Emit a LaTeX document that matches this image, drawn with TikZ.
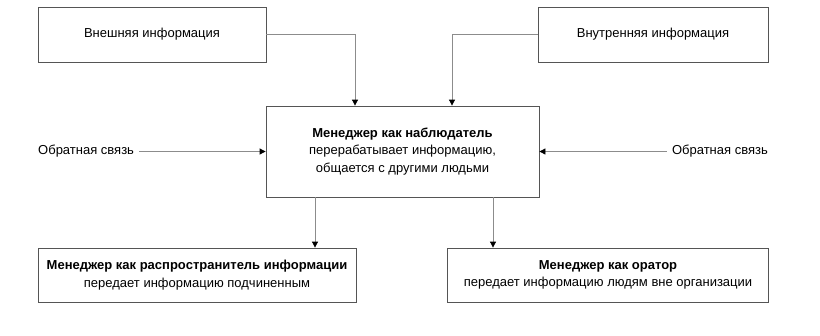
\documentclass[tikz,border=0pt]{standalone}
\usepackage{fontspec}
\setmainfont{Liberation Sans}
\usetikzlibrary{positioning,arrows.meta}
\definecolor{LineGray}{HTML}{8C8C8C}
\definecolor{FrameGray}{HTML}{555555}

\begin{document}
\begin{tikzpicture}[
  x=1pt, y=-1pt,
  font=\fontsize{13}{17.5}\selectfont,
  box/.style={draw=FrameGray, line width=0.8pt, align=center, inner sep=0pt},
  arr/.style={-{Triangle[length=6pt,width=6pt,color=black]}, draw=LineGray, line width=0.8pt}
]
\useasboundingbox (0,0) rectangle (820,335);
\node[box, minimum width=228pt, minimum height=55pt] (ext) at (152,34.5) {Внешняя информация};
\node[box, minimum width=230pt, minimum height=55pt] (int) at (653,34.5) {Внутренняя информация};
\node[box, minimum width=273pt, minimum height=91pt] (obs) at (402.5,151.5) {\textbf{Менеджер как наблюдатель}\\перерабатывает информацию,\\общается с другими людьми};
\node[box, minimum width=318pt, minimum height=54pt] (dist) at (197,275) {\textbf{Менеджер как распространитель информации}\\передает информацию подчиненным};
\node[box, minimum width=321pt, minimum height=54pt] (orat) at (608,275) {\textbf{Менеджер как оратор}\\передает информацию людям вне организации};
\node[anchor=west, inner sep=0pt] (fbl) at (38,151.5) {Обратная связь};
\node[anchor=east, inner sep=0pt] (fbr) at (768,151.5) {Обратная связь};

\coordinate (in1) at ([xshift=-47.5pt]obs.north);
\coordinate (in2) at ([xshift=49.5pt]obs.north);
\coordinate (out1) at ([xshift=-87.5pt]obs.south);
\coordinate (out2) at ([xshift=90.5pt]obs.south);

\draw[arr] (ext.east) -| (in1);
\draw[arr] (int.west) -| (in2);
\draw[arr] ([xshift=5pt]fbl.east) -- (obs.west);
\draw[arr] ([xshift=-5pt]fbr.west) -- (obs.east);
\draw[arr] (out1) -- (out1 |- dist.north);
\draw[arr] (out2) -- (out2 |- orat.north);
\end{tikzpicture}
\end{document}
